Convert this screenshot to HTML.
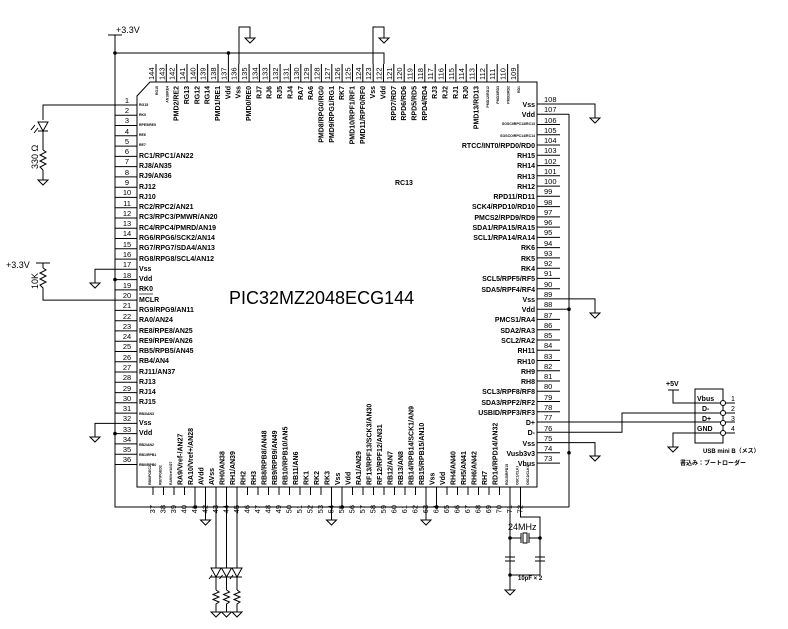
<!DOCTYPE html>
<html><head><meta charset="utf-8"><style>
html,body{margin:0;padding:0;background:#fff;}
svg{display:block;font-family:"Liberation Sans","Noto Sans CJK JP",sans-serif;}
.l{font-size:7px;font-weight:bold;}
.n{font-size:7.5px;}
.s{font-size:3.5px;}
</style></head><body>
<svg width="788" height="629" viewBox="0 0 788 629" xmlns="http://www.w3.org/2000/svg">
<g stroke="#000" stroke-width="1" fill="none">
<!-- chip body -->
<path d="M150,82 H537 V487 H137 V96 Z"/>
<!-- power rails -->
<path d="M108,35 H122 M115,35 V507 H569 M115,53 H384 V64 M569,114 V507"/>
<path d="M239,64 V27 H250 V38 M373,64 V27 H384 V38 M384,53 V64"/>
<!-- top stubs -->
<path d="M156,64V82M166.3,64V82M176.7,64V82M187,64V82M197.4,64V82M207.7,64V82M218,64V82M228.4,53V82M238.7,64V82M249.1,64V82M259.4,64V82M269.7,64V82M280.1,64V82M290.4,64V82M300.8,64V82M311.1,64V82M321.4,64V82M331.8,64V82M342.1,64V82M352.5,64V82M362.8,64V82M373.2,64V82M383.5,64V82M393.8,64V82M404.2,64V82M414.5,64V82M424.8,64V82M435.2,64V82M445.5,64V82M455.9,64V82M466.2,64V82M476.5,64V82M486.9,64V82M497.2,64V82M507.6,64V82M517.9,64V82"/>
<!-- left stubs -->
<path d="M115,105H137M115,115.3H137M115,125.5H137M115,135.8H137M115,146.1H137M115,156.4H137M115,166.6H137M115,176.9H137M115,187.2H137M115,197.4H137M115,207.7H137M115,218H137M115,228.2H137M115,238.5H137M115,248.8H137M115,259.1H137M115,269.3H137M115,279.6H137M115,289.9H137M115,300.1H137M115,310.4H137M115,320.7H137M115,330.9H137M115,341.2H137M115,351.5H137M115,361.8H137M115,372H137M115,382.3H137M115,392.6H137M115,402.8H137M115,413.1H137M115,423.4H137M115,433.6H137M115,443.9H137M115,454.2H137M115,464.5H137"/>
<!-- right stubs -->
<path d="M537,104H560M537,114.3H569M537,124.5H560M537,134.8H560M537,145H560M537,155.3H560M537,165.6H560M537,175.8H560M537,186.1H560M537,196.3H560M537,206.6H560M537,216.9H560M537,227.1H560M537,237.4H560M537,247.6H560M537,257.9H560M537,268.2H560M537,278.4H560M537,288.7H560M537,298.9H560M537,309.2H560M537,319.4H560M537,329.7H560M537,340H560M537,350.2H560M537,360.5H560M537,370.7H560M537,381H560M537,391.3H560M537,401.5H560M537,411.8H560M537,422H560M537,432.3H560M537,442.6H560M537,452.8H560M537,463.1H560"/>
<!-- bottom stubs -->
<path d="M153,487V495M163.5,487V495M174,487V495M184.5,487V495M195,487V507M205.5,487V520M216,487V568M226.5,487V568M237,487V568M247.5,487V495M258,487V495M268.5,487V495M279,487V495M289.5,487V495M300,487V495M310.5,487V495M321,487V495M331.5,487V520M342,487V507M352.5,487V495M363,487V495M373.5,487V495M384,487V495M394.5,487V495M405,487V495M415.5,487V495M426,487V520M436.5,487V507M447,487V495M457.5,487V495M468,487V495M478.5,487V495M489,487V495M499.5,487V495"/>
<!-- right Vss grounds -->
<path d="M560,104H595V118 M560,298.9H595V313 M560,442.6H595V456"/>
<!-- USB -->
<path d="M560,422H735 M560,432.3H622V413H735 M673,390V403H735 M735,433H673V447 M668,390H679"/>
<rect x="695" y="389" width="28" height="54"/>
<!-- left side -->
<path d="M115,105H43V120 M43,136V150 M43,170V180 M115,269.3H95V283 M115,423.4H95V437 M36,263H50 M43,263V268 M43,290V300.1H115"/>
<!-- left zigzags -->
<path d="M43,150 l3,2 l-6,3 l6,3 l-6,3 l6,3 l-6,3 l3,3 M43,268 l3,2 l-6,3 l6,3 l-6,3 l6,3 l-6,3 l3,3 V290"/>
<!-- left LED -->
<path d="M38,122 H48 L43,131 Z M38,131H48 M43,131V136 M38,128 l-4,5 M35,125 l-4,5"/>
<!-- crystal -->
<path d="M510,487V572 M520.5,487V517H540V572 M510,538H521 M529,538H540 M521,533V543 M529,533V543"/>
<rect x="523" y="533" width="4" height="10"/>
<path d="M505,557H515 M505,561H515 M535,557H545 M535,561H545 M510,572V582 M540,572V575H510 M510,582V590"/>
<!-- LEDs -->
<path d="M211,568H221L216,577Z M211,577H221 M216,577V590 M221.5,568H231.5L226.5,577Z M221.5,577H231.5 M226.5,577V590 M232,568H242L237,577Z M232,577H242 M237,577V590 M212,575l-3,4 M222.5,575l-3,4 M233,575l-3,4"/>
<path d="M216,590 l3,2 l-6,2.5 l6,2.5 l-6,2.5 l6,2.5 l-3,2 V612 M226.5,590 l3,2 l-6,2.5 l6,2.5 l-6,2.5 l6,2.5 l-3,2 V612 M237,590 l3,2 l-6,2.5 l6,2.5 l-6,2.5 l6,2.5 l-3,2 V612"/>
<!-- USB pin circles -->
<circle cx="723" cy="403" r="2.5" fill="#fff"/><circle cx="723" cy="413" r="2.5" fill="#fff"/><circle cx="723" cy="423" r="2.5" fill="#fff"/><circle cx="723" cy="433" r="2.5" fill="#fff"/>
</g>
<!-- grounds -->
<g stroke="#000" fill="none">
<path d="M245,38h10l-5,5z M379,38h10l-5,5z M590,118h10l-5,5z M590,313h10l-5,5z M590,456h10l-5,5z M38,180h10l-5,5z M90,283h10l-5,5z M90,437h10l-5,5z M200.5,520h10l-5,5z M326.5,520h10l-5,5z M421,520h10l-5,5z M668,447h10l-5,5z M505,590h10l-5,5z M211,612h10l-5,5z M221.5,612h10l-5,5z M232,612h10l-5,5z"/>
</g>
<!-- dots -->
<g fill="#000">
<circle cx="115" cy="53" r="1.8"/><circle cx="228.4" cy="53" r="1.8"/><circle cx="115" cy="279.6" r="1.8"/><circle cx="115" cy="433.6" r="1.8"/>
<circle cx="569" cy="309.2" r="1.8"/><circle cx="569" cy="452.8" r="1.8"/><circle cx="195" cy="507" r="1.8"/><circle cx="342" cy="507" r="1.8"/><circle cx="436.5" cy="507" r="1.8"/>
<circle cx="510" cy="538" r="1.8"/><circle cx="540" cy="538" r="1.8"/><circle cx="510" cy="575" r="1.8"/>
</g>
<path d="M560,309.2H569" stroke="#000"/>
<!-- texts -->
<g fill="#000">
<text x="116" y="33" font-size="9">+3.3V</text>
<text x="6" y="268" font-size="9">+3.3V</text>
<text transform="translate(38,169) rotate(-90)" font-size="9">330 Ω</text>
<text transform="translate(38,289) rotate(-90)" font-size="9">10K</text>
<text x="229" y="304" font-size="18">PIC32MZ2048ECG144</text>
<text x="395" y="185" class="l">RC13</text>
<text x="508" y="530" font-size="9">24MHz</text>
<text x="518" y="580" font-size="6" font-weight="bold">10pF × 2</text>
<text x="666" y="386" font-size="7" font-weight="bold">+5V</text>
<text x="697" y="401" font-size="7" font-weight="bold">Vbus</text>
<text x="702" y="411" font-size="7" font-weight="bold">D-</text>
<text x="702" y="421" font-size="7" font-weight="bold">D+</text>
<text x="697" y="431" font-size="7" font-weight="bold">GND</text>
<text x="731" y="401" font-size="7">1</text><text x="731" y="411" font-size="7">2</text><text x="731" y="421" font-size="7">3</text><text x="731" y="431" font-size="7">4</text>
<text x="703" y="453" font-size="6" font-weight="bold">USB mini B（メス）</text>
<text x="680" y="465" font-size="6" font-weight="bold">書込み：ブートローダー</text>
</g>
<!-- left pin numbers -->
<g class="n" text-anchor="middle" fill="#000">
<text x="127" y="103">1</text><text x="127" y="113">2</text><text x="127" y="123">3</text><text x="127" y="134">4</text><text x="127" y="144">5</text><text x="127" y="154">6</text><text x="127" y="164">7</text><text x="127" y="175">8</text><text x="127" y="185">9</text><text x="127" y="195">10</text><text x="127" y="206">11</text><text x="127" y="216">12</text><text x="127" y="226">13</text><text x="127" y="236">14</text><text x="127" y="247">15</text><text x="127" y="257">16</text><text x="127" y="267">17</text><text x="127" y="278">18</text><text x="127" y="288">19</text><text x="127" y="298">20</text><text x="127" y="308">21</text><text x="127" y="319">22</text><text x="127" y="329">23</text><text x="127" y="339">24</text><text x="127" y="349">25</text><text x="127" y="360">26</text><text x="127" y="370">27</text><text x="127" y="380">28</text><text x="127" y="391">29</text><text x="127" y="401">30</text><text x="127" y="411">31</text><text x="127" y="421">32</text><text x="127" y="432">33</text><text x="127" y="442">34</text><text x="127" y="452">35</text><text x="127" y="462">36</text>
</g>
<!-- left labels -->
<g class="l" fill="#000">
<text x="139" y="106" class="s">RG15</text><text x="139" y="116" class="s">RK0</text><text x="139" y="126" class="s">RPE5/RE5</text><text x="139" y="136" class="s">RE6</text><text x="139" y="146" class="s">RE7</text>
<text x="139" y="158">RC1/RPC1/AN22</text><text x="139" y="168">RJ8/AN35</text><text x="139" y="178">RJ9/AN36</text><text x="139" y="189">RJ12</text><text x="139" y="199">RJ10</text><text x="139" y="209">RC2/RPC2/AN21</text><text x="139" y="219">RC3/RPC3/PMWR/AN20</text><text x="139" y="230">RC4/RPC4/PMRD/AN19</text><text x="139" y="240">RG6/RPG6/SCK2/AN14</text><text x="139" y="250">RG7/RPG7/SDA4/AN13</text><text x="139" y="261">RG8/RPG8/SCL4/AN12</text><text x="139" y="271">Vss</text><text x="139" y="281">Vdd</text><text x="139" y="291">RK0</text><text x="139" y="302">MCLR</text><text x="139" y="312">RG9/RPG9/AN11</text><text x="139" y="322">RA0/AN24</text><text x="139" y="333">RE8/RPE8/AN25</text><text x="139" y="343">RE9/RPE9/AN26</text><text x="139" y="353">RB5/RPB5/AN45</text><text x="139" y="363">RB4/AN4</text><text x="139" y="374">RJ11/AN37</text><text x="139" y="384">RJ13</text><text x="139" y="394">RJ14</text><text x="139" y="404">RJ15</text><text x="139" y="415" class="s">RB3/AN3</text><text x="139" y="425">Vss</text><text x="139" y="435">Vdd</text><text x="139" y="446" class="s">RB2/AN2</text><text x="139" y="456" class="s">RB1/RPB1</text><text x="139" y="466" class="s">RB0/RPB0</text>
</g>
<path d="M139,294H153" stroke="#000" stroke-width="0.7"/>
<!-- right numbers -->
<g class="n" fill="#000">
<text x="544" y="102">108</text><text x="544" y="112">107</text><text x="544" y="123">106</text><text x="544" y="133">105</text><text x="544" y="143">104</text><text x="544" y="153">103</text><text x="544" y="164">102</text><text x="544" y="174">101</text><text x="544" y="184">100</text><text x="544" y="194">99</text><text x="544" y="205">98</text><text x="544" y="215">97</text><text x="544" y="225">96</text><text x="544" y="235">95</text><text x="544" y="246">94</text><text x="544" y="256">93</text><text x="544" y="266">92</text><text x="544" y="276">91</text><text x="544" y="287">90</text><text x="544" y="297">89</text><text x="544" y="307">88</text><text x="544" y="318">87</text><text x="544" y="328">86</text><text x="544" y="338">85</text><text x="544" y="348">84</text><text x="544" y="359">83</text><text x="544" y="369">82</text><text x="544" y="379">81</text><text x="544" y="389">80</text><text x="544" y="400">79</text><text x="544" y="410">78</text><text x="544" y="420">77</text><text x="544" y="431">76</text><text x="544" y="441">75</text><text x="544" y="451">74</text><text x="544" y="461">73</text>
</g>
<!-- right labels -->
<g class="l" fill="#000" text-anchor="end">
<text x="535" y="107">Vss</text><text x="535" y="117">Vdd</text><text x="535" y="125" class="s">SOSCI/RPC13/RC13</text><text x="535" y="137" class="s">SOSCO/RPC14/RC14</text><text x="535" y="148">RTCC/INT0/RPD0/RD0</text><text x="535" y="158">RH15</text><text x="535" y="168">RH14</text><text x="535" y="179">RH13</text><text x="535" y="189">RH12</text><text x="535" y="199">RPD11/RD11</text><text x="535" y="209">SCK4/RPD10/RD10</text><text x="535" y="220">PMCS2/RPD9/RD9</text><text x="535" y="230">SDA1/RPA15/RA15</text><text x="535" y="240">SCL1/RPA14/RA14</text><text x="535" y="250">RK6</text><text x="535" y="261">RK5</text><text x="535" y="271">RK4</text><text x="535" y="281">SCL5/RPF5/RF5</text><text x="535" y="292">SDA5/RPF4/RF4</text><text x="535" y="302">Vss</text><text x="535" y="312">Vdd</text><text x="535" y="322">PMCS1/RA4</text><text x="535" y="333">SDA2/RA3</text><text x="535" y="343">SCL2/RA2</text><text x="535" y="353">RH11</text><text x="535" y="364">RH10</text><text x="535" y="374">RH9</text><text x="535" y="384">RH8</text><text x="535" y="394">SCL3/RPF8/RF8</text><text x="535" y="405">SDA3/RPF2/RF2</text><text x="535" y="415">USBID/RPF3/RF3</text><text x="535" y="425">D+</text><text x="535" y="435">D-</text><text x="535" y="446">Vss</text><text x="535" y="456">Vusb3v3</text><text x="535" y="466">Vbus</text>
</g>
<!-- top numbers -->
<g class="n" fill="#000">
<text transform="translate(154,80) rotate(-90)">144</text><text transform="translate(164.3,80) rotate(-90)">143</text><text transform="translate(174.7,80) rotate(-90)">142</text><text transform="translate(185,80) rotate(-90)">141</text><text transform="translate(195.4,80) rotate(-90)">140</text><text transform="translate(205.7,80) rotate(-90)">139</text><text transform="translate(216,80) rotate(-90)">138</text><text transform="translate(226.4,80) rotate(-90)">137</text><text transform="translate(236.7,80) rotate(-90)">136</text><text transform="translate(247.1,80) rotate(-90)">135</text><text transform="translate(257.4,80) rotate(-90)">134</text><text transform="translate(267.7,80) rotate(-90)">133</text><text transform="translate(278.1,80) rotate(-90)">132</text><text transform="translate(288.4,80) rotate(-90)">131</text><text transform="translate(298.8,80) rotate(-90)">130</text><text transform="translate(309.1,80) rotate(-90)">129</text><text transform="translate(319.4,80) rotate(-90)">128</text><text transform="translate(329.8,80) rotate(-90)">127</text><text transform="translate(340.1,80) rotate(-90)">126</text><text transform="translate(350.5,80) rotate(-90)">125</text><text transform="translate(360.8,80) rotate(-90)">124</text><text transform="translate(371.2,80) rotate(-90)">123</text><text transform="translate(381.5,80) rotate(-90)">122</text><text transform="translate(391.8,80) rotate(-90)">121</text><text transform="translate(402.2,80) rotate(-90)">120</text><text transform="translate(412.5,80) rotate(-90)">119</text><text transform="translate(422.8,80) rotate(-90)">118</text><text transform="translate(433.2,80) rotate(-90)">117</text><text transform="translate(443.5,80) rotate(-90)">116</text><text transform="translate(453.9,80) rotate(-90)">115</text><text transform="translate(464.2,80) rotate(-90)">114</text><text transform="translate(474.5,80) rotate(-90)">113</text><text transform="translate(484.9,80) rotate(-90)">112</text><text transform="translate(495.2,80) rotate(-90)">111</text><text transform="translate(505.6,80) rotate(-90)">110</text><text transform="translate(515.9,80) rotate(-90)">109</text>
</g>
<!-- top labels -->
<g class="l" fill="#000" text-anchor="end">
<text transform="translate(158,86) rotate(-90)" class="s">RG15</text><text transform="translate(168.3,86) rotate(-90)" class="s">AN18/RE4</text><text transform="translate(178.7,86) rotate(-90)">PMD2/RE2</text><text transform="translate(189,86) rotate(-90)">RG13</text><text transform="translate(199.4,86) rotate(-90)">RG12</text><text transform="translate(209.7,86) rotate(-90)">RG14</text><text transform="translate(220,86) rotate(-90)">PMD1/RE1</text><text transform="translate(230.4,86) rotate(-90)">Vdd</text><text transform="translate(240.7,86) rotate(-90)">Vss</text><text transform="translate(251.1,86) rotate(-90)">PMD0/RE0</text><text transform="translate(261.4,86) rotate(-90)">RJ7</text><text transform="translate(271.7,86) rotate(-90)">RJ6</text><text transform="translate(282.1,86) rotate(-90)">RJ5</text><text transform="translate(292.4,86) rotate(-90)">RJ4</text><text transform="translate(302.8,86) rotate(-90)">RA7</text><text transform="translate(313.1,86) rotate(-90)">RA6</text><text transform="translate(323.4,86) rotate(-90)">PMD8/RPG0/RG0</text><text transform="translate(333.8,86) rotate(-90)">PMD9/RPG1/RG1</text><text transform="translate(344.1,86) rotate(-90)">RK7</text><text transform="translate(354.5,86) rotate(-90)">PMD10/RPF1/RF1</text><text transform="translate(364.8,86) rotate(-90)">PMD11/RPF0/RF0</text><text transform="translate(375.2,86) rotate(-90)">Vss</text><text transform="translate(385.5,86) rotate(-90)">Vdd</text><text transform="translate(395.8,86) rotate(-90)">RPD7/RD7</text><text transform="translate(406.2,86) rotate(-90)">RPD6/RD6</text><text transform="translate(416.5,86) rotate(-90)">RPD5/RD5</text><text transform="translate(426.8,86) rotate(-90)">RPD4/RD4</text><text transform="translate(437.2,86) rotate(-90)">RJ3</text><text transform="translate(447.5,86) rotate(-90)">RJ2</text><text transform="translate(457.9,86) rotate(-90)">RJ1</text><text transform="translate(468.2,86) rotate(-90)">RJ0</text><text transform="translate(478.5,86) rotate(-90)">PMD13/RD13</text><text transform="translate(488.9,86) rotate(-90)" class="s">PMD12/RD12</text><text transform="translate(499.2,86) rotate(-90)" class="s">PMD3/RD3</text><text transform="translate(509.6,86) rotate(-90)" class="s">PMD2/RD2</text><text transform="translate(519.9,86) rotate(-90)" class="s">RD1</text>
</g>
<!-- bottom numbers -->
<g class="n" fill="#000" text-anchor="end">
<text transform="translate(155,505) rotate(-90)">37</text><text transform="translate(165.5,505) rotate(-90)">38</text><text transform="translate(176,505) rotate(-90)">39</text><text transform="translate(186.5,505) rotate(-90)">40</text><text transform="translate(197,505) rotate(-90)">41</text><text transform="translate(207.5,505) rotate(-90)">42</text><text transform="translate(218,505) rotate(-90)">43</text><text transform="translate(228.5,505) rotate(-90)">44</text><text transform="translate(239,505) rotate(-90)">45</text><text transform="translate(249.5,505) rotate(-90)">46</text><text transform="translate(260,505) rotate(-90)">47</text><text transform="translate(270.5,505) rotate(-90)">48</text><text transform="translate(281,505) rotate(-90)">49</text><text transform="translate(291.5,505) rotate(-90)">50</text><text transform="translate(302,505) rotate(-90)">51</text><text transform="translate(312.5,505) rotate(-90)">52</text><text transform="translate(323,505) rotate(-90)">53</text><text transform="translate(333.5,505) rotate(-90)">54</text><text transform="translate(344,505) rotate(-90)">55</text><text transform="translate(354.5,505) rotate(-90)">56</text><text transform="translate(365,505) rotate(-90)">57</text><text transform="translate(375.5,505) rotate(-90)">58</text><text transform="translate(386,505) rotate(-90)">59</text><text transform="translate(396.5,505) rotate(-90)">60</text><text transform="translate(407,505) rotate(-90)">61</text><text transform="translate(417.5,505) rotate(-90)">62</text><text transform="translate(428,505) rotate(-90)">63</text><text transform="translate(438.5,505) rotate(-90)">64</text><text transform="translate(449,505) rotate(-90)">65</text><text transform="translate(459.5,505) rotate(-90)">66</text><text transform="translate(470,505) rotate(-90)">67</text><text transform="translate(480.5,505) rotate(-90)">68</text><text transform="translate(491,505) rotate(-90)">69</text><text transform="translate(501.5,505) rotate(-90)">70</text><text transform="translate(512,505) rotate(-90)">71</text><text transform="translate(522.5,505) rotate(-90)">72</text>
</g>
<!-- bottom labels -->
<g class="l" fill="#000">
<text transform="translate(151,485) rotate(-90)" class="s">RB6/PGEC2</text><text transform="translate(161.5,485) rotate(-90)" class="s">RB7/PGED2</text><text transform="translate(172,485) rotate(-90)" class="s">RA9/VrefAN27</text><text transform="translate(182.5,485) rotate(-90)">RA9/Vref-/AN27</text><text transform="translate(193,485) rotate(-90)">RA10/Vref+/AN28</text><text transform="translate(203.5,485) rotate(-90)">AVdd</text><text transform="translate(214,485) rotate(-90)">AVss</text><text transform="translate(224.5,485) rotate(-90)">RH0/AN38</text><text transform="translate(235,485) rotate(-90)">RH1/AN39</text><text transform="translate(245.5,485) rotate(-90)">RH2</text><text transform="translate(256,485) rotate(-90)">RH3</text><text transform="translate(266.5,485) rotate(-90)">RB8/RPB8/AN48</text><text transform="translate(277,485) rotate(-90)">RB9/RPB9/AN49</text><text transform="translate(287.5,485) rotate(-90)">RB10/RPB10/AN5</text><text transform="translate(298,485) rotate(-90)">RB11/AN6</text><text transform="translate(308.5,485) rotate(-90)">RK1</text><text transform="translate(319,485) rotate(-90)">RK2</text><text transform="translate(329.5,485) rotate(-90)">RK3</text><text transform="translate(340,485) rotate(-90)">Vss</text><text transform="translate(350.5,485) rotate(-90)">Vdd</text><text transform="translate(361,485) rotate(-90)">RA1/AN29</text><text transform="translate(371.5,485) rotate(-90)">RF13/RPF13/SCK3/AN30</text><text transform="translate(382,485) rotate(-90)">RF12/RPF12/AN31</text><text transform="translate(392.5,485) rotate(-90)">RB12/AN7</text><text transform="translate(403,485) rotate(-90)">RB13/AN8</text><text transform="translate(413.5,485) rotate(-90)">RB14/RPB14/SCK1/AN9</text><text transform="translate(424,485) rotate(-90)">RB15/RPB15/AN10</text><text transform="translate(434.5,485) rotate(-90)">Vss</text><text transform="translate(445,485) rotate(-90)">Vdd</text><text transform="translate(455.5,485) rotate(-90)">RH4/AN40</text><text transform="translate(466,485) rotate(-90)">RH5/AN41</text><text transform="translate(476.5,485) rotate(-90)">RH6/AN42</text><text transform="translate(487,485) rotate(-90)">RH7</text><text transform="translate(497.5,485) rotate(-90)">RD14/RPD14/AN32</text><text transform="translate(508,485) rotate(-90)" class="s">RD15/RPD15</text><text transform="translate(518.5,485) rotate(-90)" class="s">OSC1/CLKI</text><text transform="translate(529,485) rotate(-90)" class="s">OSC2/CLKO</text>
</g>
</svg>
</body></html>
